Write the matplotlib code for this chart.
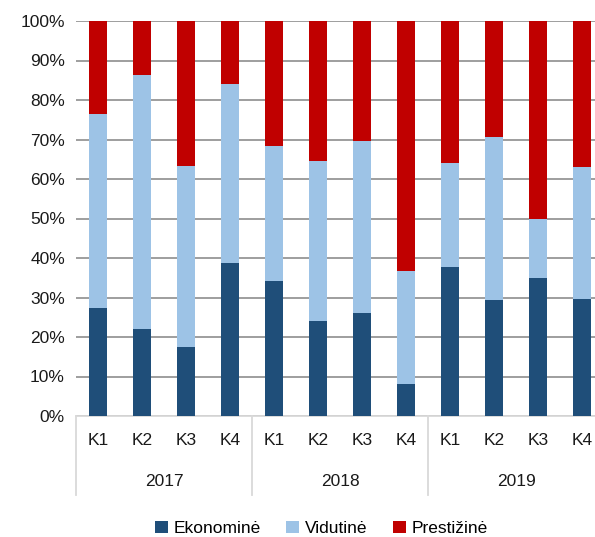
import matplotlib
matplotlib.use("Agg")
import matplotlib.pyplot as plt
import matplotlib.transforms as mtrans
import numpy as np

plt.rcParams['font.family'] = ['Liberation Sans', 'DejaVu Sans']

## Data
years = ['2017', '2018', '2019']
quarters = ['K1', 'K2', 'K3', 'K4']
ekonomine = [27.3, 22.0, 17.5, 38.7, 34.1, 24.0, 26.0, 8.2, 37.7, 29.3, 35.0, 29.7]
vidutine_top = [76.5, 86.3, 63.3, 84.1, 68.3, 64.5, 69.5, 36.7, 64.0, 70.7, 50.0, 63.0]
vidutine = [v - e for v, e in zip(vidutine_top, ekonomine)]
prestizine = [100 - v for v in vidutine_top]

colors = ['#1F4E79', '#9DC3E6', '#C00000']
labels = ['Ekonominė', 'Vidutinė', 'Prestižinė']
fs = 12.5

## Plot
fig = plt.figure(figsize=(5.95, 5.37), dpi=100)
ax = fig.add_axes([76/595, 1-416/537, (595-76)/595, 395/537])

x = np.arange(len(ekonomine))
w = 0.39
ax.bar(x, ekonomine, w, color=colors[0], label=labels[0], zorder=3)
ax.bar(x, vidutine, w, bottom=ekonomine, color=colors[1], label=labels[1], zorder=3)
ax.bar(x, prestizine, w, bottom=vidutine_top, color=colors[2], label=labels[2], zorder=3)

ax.set_ylim(0, 100)
ax.set_xlim(-0.5, 11.5 - 9/44)
ax.set_yticks(np.arange(0, 101, 10))
ax.set_yticklabels(['%d%%' % v for v in range(0, 101, 10)], fontsize=fs, color='#1a1a1a')
ax.yaxis.grid(True, color='#969696', linewidth=1.3, zorder=0)
ax.tick_params(axis='y', length=0, pad=8)
ax.tick_params(axis='x', length=0)
ax.set_xticks(x)
ax.set_xticklabels(quarters * 3, fontsize=fs, color='#1a1a1a')
ax.tick_params(axis='x', pad=12)
for s in ['top', 'right', 'left']:
    ax.spines[s].set_visible(False)
ax.spines['bottom'].set_color('#d9d9d9')
ax.spines['bottom'].set_linewidth(1.3)

# group separators and year labels
tr = mtrans.blended_transform_factory(ax.transData, ax.transAxes)
for b in [-0.5, 3.5, 7.5, 11.5]:
    ax.plot([b, b], [0, -0.2], color='#d9d9d9', linewidth=1.3, transform=tr, clip_on=False)
for i, yr in enumerate(years):
    ax.text(4*i + 1.5, -0.165, yr, transform=tr, ha='center', va='center',
            fontsize=fs, color='#1a1a1a')

fig.legend(loc='center', bbox_to_anchor=(0.54, 0.016), ncol=3, frameon=False,
           fontsize=fs, handlelength=0.75, handleheight=0.75, handletextpad=0.3,
           columnspacing=1.5)

plt.savefig('out.png', dpi=100)
